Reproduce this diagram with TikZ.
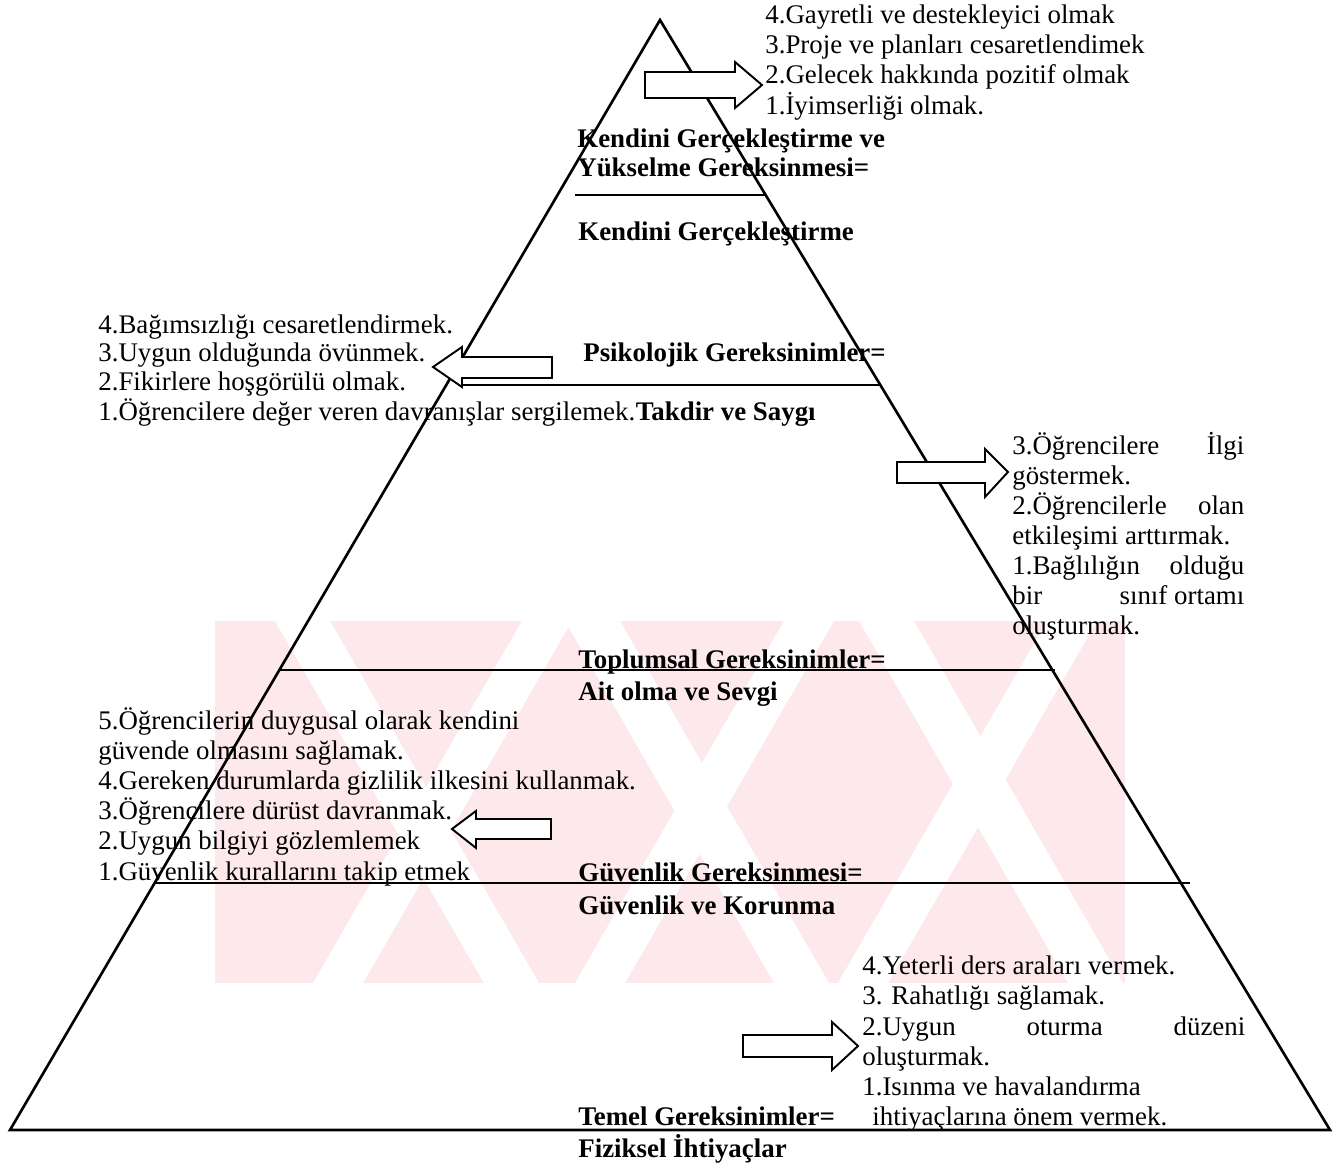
\documentclass[tikz,border=0pt]{standalone}
\usepackage{fontspec}
\setmainfont{Liberation Serif}
\usetikzlibrary{positioning}
\definecolor{wmpink}{RGB}{253,232,236}

\tikzset{
  lbl/.style={anchor=base west, inner sep=0pt, font=\fontsize{15.3}{18}\selectfont},
  lvl/.style={anchor=base west, inner sep=0pt, font=\fontsize{15.3}{18}\selectfont\bfseries},
  lvline/.style={line width=1.1pt},
  barrow/.style={draw, line width=1.1pt, fill=white, line join=miter}
}

\begin{document}
\begin{tikzpicture}[x=0.02cm,y=-0.02cm]
\useasboundingbox (0,0) rectangle (1335,1169);

%Watermark
\begin{scope}
\clip (215,621) rectangle (1125,983);
\fill[wmpink] (215,621) rectangle (1125,983);
\fill[white] (275,621) -- (330,621) -- (539,983) -- (484,983) -- cycle;
\fill[white] (565,621) -- (620,621) -- (829,983) -- (774,983) -- cycle;
\fill[white] (859,621) -- (914,621) -- (1123,983) -- (1068,983) -- cycle;
\fill[white] (522,621) -- (572,621) -- (363,983) -- (313,983) -- cycle;
\fill[white] (784,621) -- (834,621) -- (625,983) -- (575,983) -- cycle;
\fill[white] (1047,621) -- (1097,621) -- (888,983) -- (838,983) -- cycle;
\end{scope}

\coordinate (apex) at (660,20);
\coordinate (bl) at (10,1130);
\coordinate (br) at (1330,1130);
\draw[line width=1.5pt, line join=miter] (apex) -- (br) -- (bl) -- cycle;

\draw[lvline] (575,195) -- (765,195);
\draw[lvline] (460,385) -- (880,385);
\draw[lvline] (280,670) -- (1055,670);
\draw[lvline] (155,883) -- (1190,883);

%Arrows
\draw[barrow] (645,72) -- (735,72) -- (735,62) -- (762,85) -- (735,108) -- (735,98) -- (645,98) -- cycle;
\draw[barrow] (552,357) -- (462,357) -- (462,347) -- (433,367) -- (462,387) -- (462,378) -- (552,378) -- cycle;
\draw[barrow] (897,462) -- (985,462) -- (985,449) -- (1008,472) -- (985,497) -- (985,483) -- (897,483) -- cycle;
\draw[barrow] (551,819) -- (476,819) -- (476,811) -- (452,829) -- (476,848) -- (476,839) -- (551,839) -- cycle;
\draw[barrow] (743,1035) -- (832,1035) -- (832,1022) -- (858,1046) -- (832,1070) -- (832,1057) -- (743,1057) -- cycle;

%Top
\node[lbl] (u4) at (765,24) {4.Gayretli ve destekleyici olmak};
\node[lbl] (u3) at (765,54) {3.Proje ve planları cesaretlendimek};
\node[lbl] (u2) at (765,84) {2.Gelecek hakkında pozitif olmak};
\node[lbl] (u1) at (765,115) {1.İyimserliği olmak.};
\node[lvl] (kg1) at (577,148) {Kendini Gerçekleştirme ve};
\node[lvl] (kg2) at (577,177) {Yükselme Gereksinmesi=};
\node[lvl] (kg3) at (578,240) {Kendini Gerçekleştirme};

%Psychological
\node[lbl] (o4) at (98,333) {4.Bağımsızlığı cesaretlendirmek.};
\node[lbl] (o3) at (98,361) {3.Uygun olduğunda övünmek.};
\node[lbl] (o2) at (98,390) {2.Fikirlere hoşgörülü olmak.};
\node[lbl] (o1) at (98,420) {1.Öğrencilere değer veren davranışlar sergilemek.};
\node[lvl] (tsaygi) at (o1.base east) {Takdir ve Saygı};
\node[lvl] (psi) at (583,361) {Psikolojik Gereksinimler=};

%Social
\node[lbl] (s1) at (1012,454) {\makebox[46.4mm][l]{3.Öğrencilere\hfill İlgi}};
\node[lbl] (s2) at (1012,484) {göstermek.};
\node[lbl] (s3) at (1012,514) {\makebox[46.4mm][l]{2.Öğrencilerle\hfill olan}};
\node[lbl] (s4) at (1012,544) {etkileşimi arttırmak.};
\node[lbl] (s5) at (1012,574) {\makebox[46.4mm][l]{1.Bağlılığın\hfill olduğu}};
\node[lbl] (s6) at (1012,604) {\makebox[46.4mm][l]{bir\hfill sınıf ortamı}};
\node[lbl] (s7) at (1012,634) {oluşturmak.};
\node[lvl] (top1) at (578,668) {Toplumsal Gereksinimler=};
\node[lvl] (top2) at (578,700) {Ait olma ve Sevgi};

%Safety
\node[lbl] (g5) at (98,729) {5.Öğrencilerin duygusal olarak kendini};
\node[lbl] (g5b) at (98,759) {güvende olmasını sağlamak.};
\node[lbl] (g4) at (98,789) {4.Gereken durumlarda gizlilik ilkesini kullanmak.};
\node[lbl] (g3) at (98,819) {3.Öğrencilere dürüst davranmak.};
\node[lbl] (g2) at (98,849) {2.Uygun bilgiyi gözlemlemek};
\node[lbl] (g1) at (98,880) {1.Güvenlik kurallarını takip etmek};
\node[lvl] (guv1) at (578,881) {Güvenlik Gereksinmesi=};
\node[lvl] (guv2) at (578,914) {Güvenlik ve Korunma};

%Physical
\node[lbl] (f4) at (862,974) {4.Yeterli ders araları vermek.};
\node[lbl] (f3) at (862,1004) {3. Rahatlığı sağlamak.};
\node[lbl] (f2) at (862,1035) {\makebox[76.6mm][l]{2.Uygun\hfill oturma\hfill düzeni}};
\node[lbl] (f2b) at (862,1065) {oluşturmak.};
\node[lbl] (f1) at (862,1095) {1.Isınma ve havalandırma};
\node[lbl] (f1b) at (872,1125) {ihtiyaçlarına önem vermek.};
\node[lvl] (tem1) at (578,1125) {Temel Gereksinimler=};
\node[lvl] (tem2) at (578,1157) {Fiziksel İhtiyaçlar};

\end{tikzpicture}
\end{document}
